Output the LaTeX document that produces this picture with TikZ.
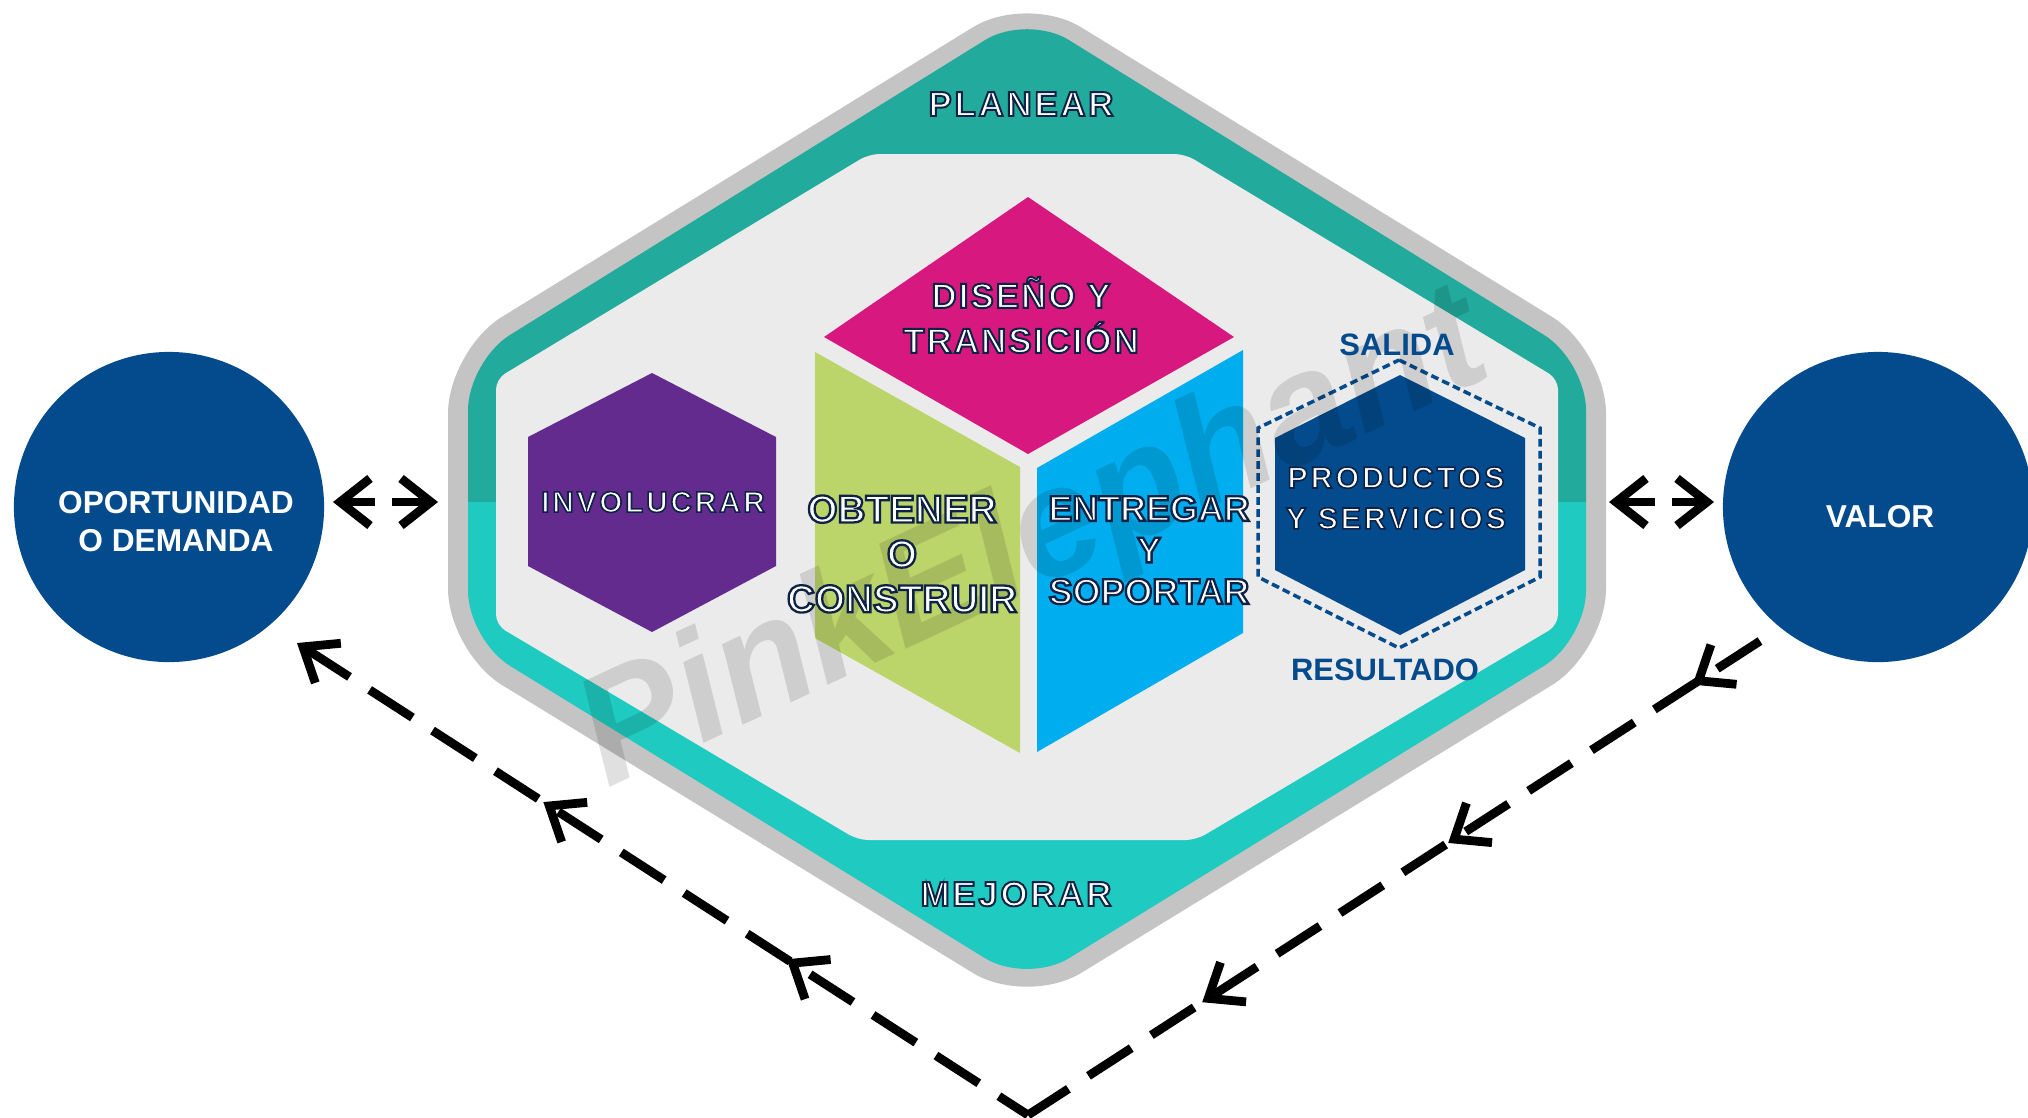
\documentclass[tikz,border=0pt]{standalone}
\usepackage{fontspec}
\setmainfont{Liberation Sans}
\newfontfamily\lsA[LetterSpace=8]{Liberation Sans}
\newfontfamily\lsB[LetterSpace=6]{Liberation Sans}
\newfontfamily\lsC[LetterSpace=10]{Liberation Sans}
\usetikzlibrary{arrows.meta,calc,decorations.markings}
\definecolor{rim}{HTML}{C4C4C4}
\definecolor{tealA}{HTML}{22AB9D}
\definecolor{tealB}{HTML}{1FCBC1}
\definecolor{innerg}{HTML}{EBEBEB}
\definecolor{cMag}{HTML}{D7197F}
\definecolor{cGreen}{HTML}{BCD56A}
\definecolor{cBlue}{HTML}{00AEEF}
\definecolor{cPurple}{HTML}{642B8F}
\definecolor{cNavy}{HTML}{044B8D}
\newcommand\otxt[2][0.55]{\special{pdf:literal direct 2 Tr #1 w 0.055 0.133 0.275 RG}#2\special{pdf:literal direct 0 Tr}}
\tikzset{
 lbl/.style={inner sep=0pt, align=center, text=white},
 fPlan/.style={font=\lsA\bfseries\fontsize{9.9}{12}\selectfont},
 fDis/.style={font=\lsB\bfseries\fontsize{9.9}{12.76}\selectfont},
 fInv/.style={font=\lsC\bfseries\fontsize{8.4}{10}\selectfont},
 fObt/.style={font=\bfseries\fontsize{11}{12.76}\selectfont},
 fEnt/.style={font=\bfseries\fontsize{10.2}{11.8}\selectfont},
 fPro/.style={font=\lsC\bfseries\fontsize{8.6}{11.6}\selectfont},
 tag/.style={inner sep=0pt, text=cNavy, font=\bfseries\fontsize{8.8}{10}\selectfont},
 ctext/.style={inner sep=0pt, align=center, text=white, font=\bfseries\fontsize{9}{10.8}\selectfont},
 bigc/.style={circle, fill=cNavy, minimum size=3.1cm, inner sep=0pt},
 barb/.tip={Straight Barb[length=8.5pt,width=13.4pt]},
 flow/.style={line width=2.5pt, dash pattern=on 14.5pt off 6.8pt},
 dbl/.style={line width=2.5pt, -{barb}},
 hexdash/.style={draw=cNavy, line width=1pt, dash pattern=on 2.2pt off 1.2pt},
}
\begin{document}
\begin{tikzpicture}[x=0.01cm,y=-0.01cm]
\useasboundingbox (0,0) rectangle (2028,1117);
\clip (0,0) rectangle (2028,1117);
% rim
\fill[rim, rounded corners=18pt] (448,500) -- (448,350) -- (1027,-6) -- (1606,350) -- (1606,652) -- (1027,1006) -- (448,652) -- cycle;
% teal band
\begin{scope}
\clip[rounded corners=14pt] (468,500) -- (468,361) -- (1027,14) -- (1586,361) -- (1586,640) -- (1027,984) -- (468,640) -- cycle;
\fill[tealA] (0,0) rectangle (2028,502);
\fill[tealB] (0,502) rectangle (2028,1117);
\end{scope}
% inner field
\fill[innerg, rounded corners=3pt] (496,500) -- (496,379) -- (869,154) -- (1185,154) -- (1558,379) -- (1558,625) -- (1196,840) -- (858,840) -- (496,625) -- cycle;
% cube
\fill[cMag] (1028,197) -- (1234,337) -- (1028,454) -- (824,337) -- cycle;
\fill[cGreen] (815,352) -- (1020,467) -- (1020,753) -- (815,638) -- cycle;
\fill[cBlue] (1037,468) -- (1243,350) -- (1243,633) -- (1037,752) -- cycle;
% hexagons
\fill[cPurple] (652,373) -- (776,437) -- (776,566) -- (652,632) -- (528,566) -- (528,437) -- cycle;
\fill[cNavy] (1400,375) -- (1525,438) -- (1525,570) -- (1400,635) -- (1275,570) -- (1275,438) -- cycle;
\draw[hexdash] (1399,360) -- (1540,428) -- (1540,577) -- (1399,648) -- (1258,577) -- (1258,428) -- cycle;
% watermark
\node[rotate=25, inner sep=0pt, font=\bfseries\itshape\fontsize{44}{44}\selectfont, text=black, text opacity=0.12] (wm) at (1035,545) {PinkElephant};
% outlined labels
\node[lbl, fPlan] (planear) at (1021,104) {\otxt{PLANEAR}};
\node[lbl, fPlan] (mejorar) at (1016,894) {\otxt{MEJORAR}};
\node[lbl, fDis] (diseno) at (1021,315) {\otxt{DISEÑO Y\\TRANSICIÓN}};
\node[lbl, fInv] (involucrar) at (653,502) {\otxt[0.45]{INVOLUCRAR}};
\node[lbl, fObt] (obtener) at (902,554) {\otxt[0.65]{OBTENER\\O\\CONSTRUIR}};
\node[lbl, fEnt] (entregar) at (1149,550) {\otxt[0.65]{ENTREGAR\\Y\\SOPORTAR}};
\node[lbl, fPro] (productos) at (1396,498) {\otxt[0.45]{PRODUCTOS\\Y SERVICIOS}};
\node[tag] (salida) at (1397,345) {SALIDA};
\node[tag] (resultado) at (1385,670) {RESULTADO};
% circles
\node[bigc] (opp) at (169,507) {};
\node[ctext] (opptxt) at (176,522) {OPORTUNIDAD\\O DEMANDA};
\node[bigc] (valor) at (1878,507) {};
\node[ctext] (valtxt) at (1880,517) {VALOR};
% double arrows
\coordinate (a1) at (375,502); \coordinate (a2) at (333,502);
\coordinate (a3) at (392,502); \coordinate (a4) at (438,502);
\coordinate (b1) at (1655,502); \coordinate (b2) at (1609,502);
\coordinate (b3) at (1672,502); \coordinate (b4) at (1714,502);
\draw[dbl] (a1) -- (a2);
\draw[dbl] (a3) -- (a4);
\draw[dbl] (b1) -- (b2);
\draw[dbl] (b3) -- (b4);
% return flow
\coordinate (L) at (297,643);
\coordinate (R) at (1760,641);
\coordinate (B) at (1028,1115);
\draw[flow, {barb}-, postaction={decorate}, decoration={markings,
  mark=at position 0.337 with {\arrowreversed{barb}},
  mark=at position 0.670 with {\arrowreversed{barb}}}] (L) -- (B);
\draw[flow, postaction={decorate}, decoration={markings,
  mark=at position 0.092 with {\arrow{barb}},
  mark=at position 0.426 with {\arrow{barb}},
  mark=at position 0.762 with {\arrow{barb}}}] (R) -- (B);
\end{tikzpicture}
\end{document}
